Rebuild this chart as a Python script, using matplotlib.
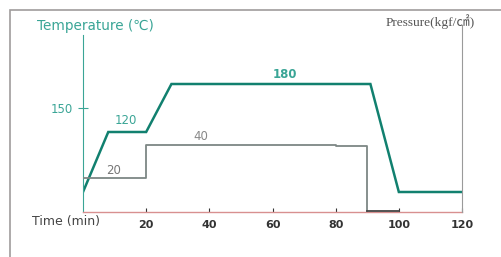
import matplotlib.pyplot as plt
from matplotlib.patches import Rectangle

# temperature profile (min, degC)
t_time = [0, 8, 20, 28, 91, 100, 120]
t_temp = [45, 120, 120, 180, 180, 45, 45]

# pressure profile (min, kgf/cm2)
p_time = [0, 20, 20, 80, 80, 90, 90]
p_val = [20, 20, 40, 40, 39.5, 39.5, 0]
p0_time = [90, 100]
p0_val = [0, 0]

xticks = [20, 40, 60, 80, 100, 120]

teal = '#11806f'
teal_txt = '#3aa596'
gray = '#7d8785'

W, H = 501, 257
fig = plt.figure(figsize=(W / 100, H / 100), dpi=100)
fig.patches.append(Rectangle((10 / W, -0.2), 1.2, 1.2 - 10 / H + 0.0,
                             transform=fig.transFigure, fill=False,
                             edgecolor='#a09c9c', lw=1.2))

ax = fig.add_axes([83 / W, 1 - 212 / H, 379 / W, 187 / H])
ax.set_xlim(0, 120)
ax.set_ylim(20, 253.75)
ax.plot(t_time, t_temp, color=teal, lw=1.8, solid_joinstyle='miter')

ax2 = ax.twinx()
ax2.set_ylim(-0.5, 113)
ax2.plot(p_time, p_val, color=gray, lw=1.3)
ax2.plot(p0_time, p0_val, color='#444444', lw=1.3)

for a in (ax, ax2):
    a.spines['top'].set_visible(False)
    a.patch.set_visible(False)
ax.spines['right'].set_visible(False)
ax2.spines['left'].set_visible(False)
ax2.spines['bottom'].set_visible(False)
ax.spines['left'].set_color(teal_txt)
ax.spines['left'].set_bounds(20, 241)
ax.spines['bottom'].set_color('#d89090')
ax.spines['bottom'].set_linewidth(1.0)
ax2.spines['right'].set_color('#9a9a9a')

ax.set_xticks(xticks)
ax.set_xticklabels([str(v) for v in xticks], fontweight='bold',
                   fontsize=8, color='#333333')
ax.tick_params(axis='x', direction='in', length=3, pad=6, color='#333333')
ax.set_yticks([150])
ax.set_yticklabels(['150'], fontsize=8.5, color=teal_txt)
ax.tick_params(axis='y', direction='inout', length=7, color=teal_txt)
ax2.set_yticks([])

def ftext(x, y, s, **kw):
    fig.text(x / W, 1 - y / H, s, va='center', **kw)

ftext(37, 26, 'Temperature (℃)', color=teal_txt, fontsize=9.8)
ftext(386, 22, 'Pressure(kgf/㎠)', color='#555555', fontsize=9.6,
      family=['Liberation Serif', 'Noto Sans CJK SC'])
ftext(32, 222, 'Time (min)', color='#444444', fontsize=9)
ftext(115, 120, '120', color=teal_txt, fontsize=8.5)
ftext(273, 74, '180', color=teal_txt, fontsize=8.5, fontweight='bold')
ftext(193, 137, '40', color='#888888', fontsize=8.5)
ftext(106, 171, '20', color='#777777', fontsize=8.5)

fig.savefig('out.png', dpi=100)
